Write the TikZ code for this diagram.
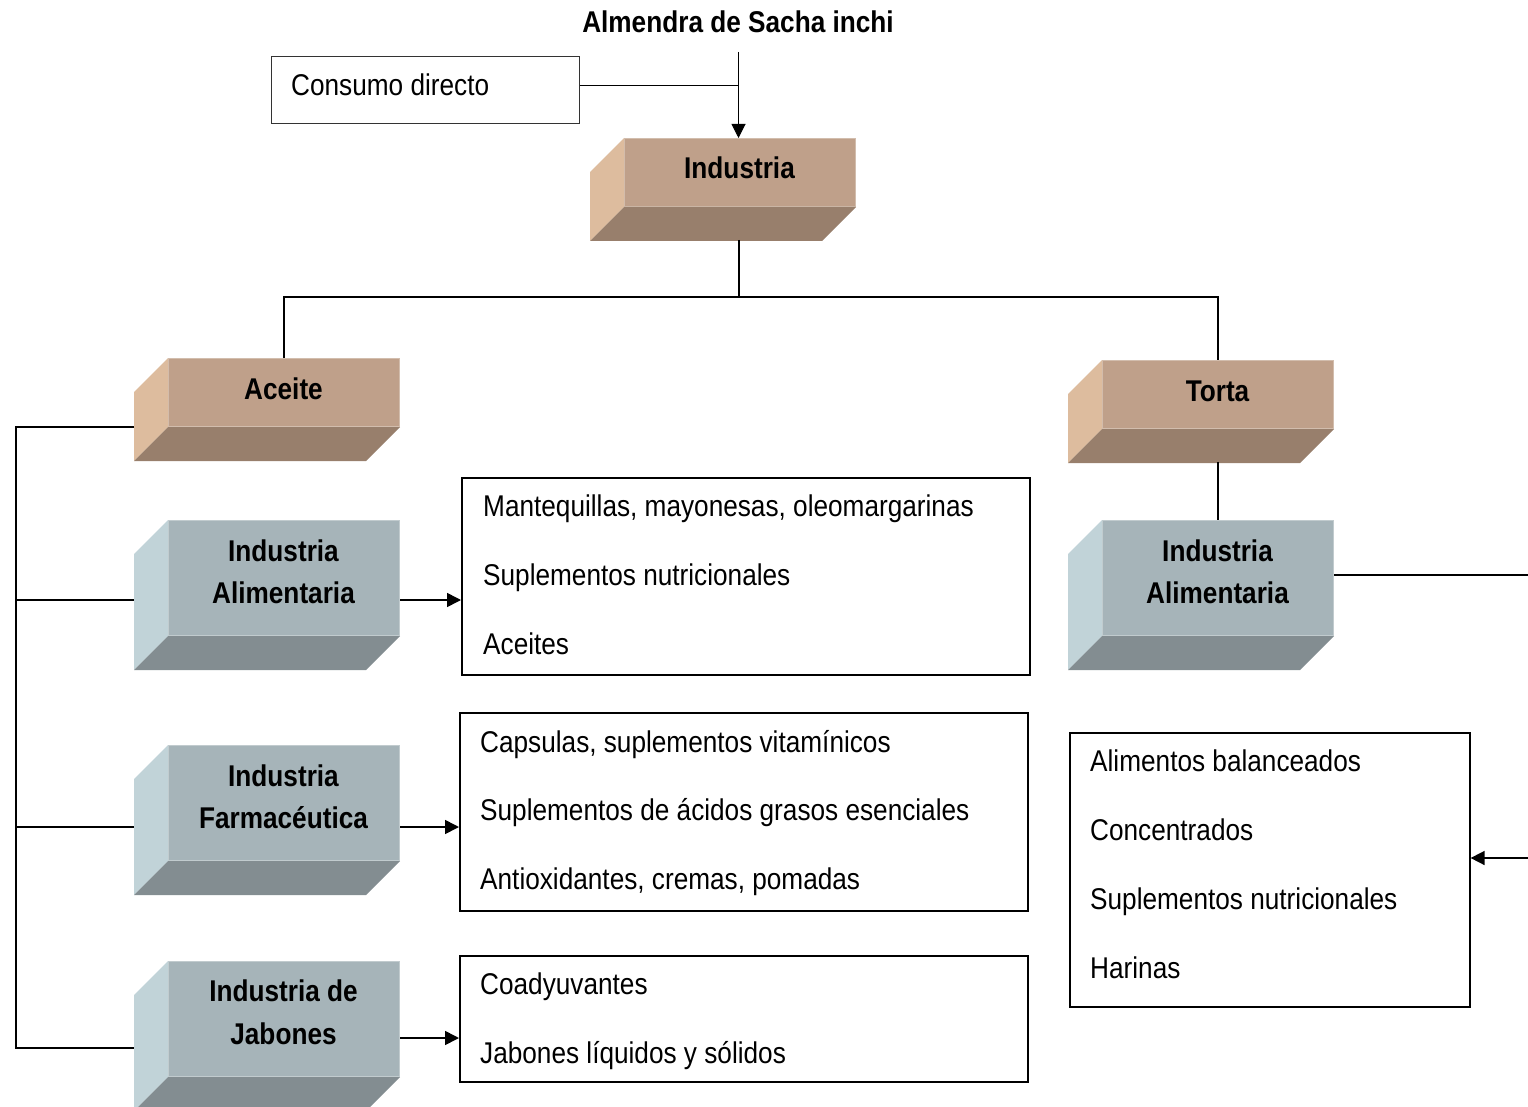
\documentclass[tikz,border=0pt]{standalone}
\usepackage{fontspec}
\setmainfont{Liberation Sans}[FakeStretch=0.873]
\usetikzlibrary{arrows.meta,calc}
\definecolor{tanF}{HTML}{BFA08A}
\definecolor{tanS}{HTML}{DDBC9E}
\definecolor{tanB}{HTML}{987F6C}
\definecolor{grayF}{HTML}{A6B4B9}
\definecolor{grayS}{HTML}{C1D3D8}
\definecolor{grayB}{HTML}{838D91}
\newcommand\bevbox[6]{%
  \node[inner sep=0pt, anchor=north west, fill=#6F, draw=#6F!70!white, line width=1pt,
        minimum width={(#4-#2)*1pt}, minimum height={(#5-#3)*1pt}] (#1) at (#2,#3) {};
  \fill[#6S] (#1.north west) -- ++(-34,34) -- ($(#1.south west)+(-34,34)$) -- (#1.south west) -- cycle;
  \fill[#6B] (#1.south west) -- (#1.south east) -- ++(-34,34) -- ($(#1.south west)+(-34,34)$) -- cycle;
}
\begin{document}
\begin{tikzpicture}[x=1pt,y=-1pt,
  lbl/.style={font=\fontsize{30}{34}\selectfont\bfseries, anchor=base, inner sep=0pt},
  txt/.style={font=\fontsize{30}{34}\selectfont, anchor=base west, inner sep=0pt},
  tbox/.style={draw=black, line width=1.6pt, inner sep=0pt, anchor=north west},
  conn/.style={line width=1.6pt},
  thinconn/.style={line width=1pt},
  arr/.style={line width=1.6pt, -{Triangle[length=14pt,width=14pt]}}]
\useasboundingbox (0,0) rectangle (1528,1107);

% title
\node[lbl] (title) at (738,33) {Almendra de Sacha inchi};

% consumo directo
\node[tbox, draw=black!80, line width=1pt, minimum width=308pt, minimum height=67pt] (cons) at (271,56) {};
\node[txt] (consT) at (291,96) {Consumo directo};

% 3D boxes
\bevbox{ind}{624}{138}{855}{206}{tan}
\node[lbl] (indT) at (739.5,179) {Industria};
\bevbox{ace}{168}{358}{399}{426}{tan}
\node[lbl] (aceT) at (283.5,399) {Aceite};
\bevbox{tor}{1102}{360}{1333}{428}{tan}
\node[lbl] (torT) at (1217.5,401) {Torta};

\bevbox{ia}{168}{520}{399}{635}{gray}
\node[lbl] (iaT1) at (283.5,561) {Industria};
\node[lbl] (iaT2) at (283.5,603) {Alimentaria};
\bevbox{fa}{168}{745}{399}{860}{gray}
\node[lbl] (faT1) at (283.5,786) {Industria};
\node[lbl] (faT2) at (283.5,828) {Farmacéutica};
\bevbox{jab}{168}{961}{399}{1076}{gray}
\node[lbl] (jabT1) at (283.5,1001) {Industria de};
\node[lbl] (jabT2) at (283.5,1044) {Jabones};
\bevbox{tia}{1102}{520}{1333}{635}{gray}
\node[lbl] (tiaT1) at (1217.5,561) {Industria};
\node[lbl] (tiaT2) at (1217.5,603) {Alimentaria};

% text boxes
\node[tbox, minimum width=568pt, minimum height=197pt] (b1) at (461,477) {};
\node[txt] (b1a) at (483,516) {Mantequillas, mayonesas, oleomargarinas};
\node[txt] (b1b) at (483,585) {Suplementos nutricionales};
\node[txt] (b1c) at (483,654) {Aceites};

\node[tbox, minimum width=568pt, minimum height=198pt] (b2) at (459,712) {};
\node[txt] (b2a) at (480,752) {Capsulas, suplementos vitamínicos};
\node[txt] (b2b) at (480,820) {Suplementos de ácidos grasos esenciales};
\node[txt] (b2c) at (480,889) {Antioxidantes, cremas, pomadas};

\node[tbox, minimum width=568pt, minimum height=126pt] (b3) at (459,955) {};
\node[txt] (b3a) at (480,994) {Coadyuvantes};
\node[txt] (b3b) at (480,1063) {Jabones líquidos y sólidos};

\node[tbox, minimum width=400pt, minimum height=274pt] (b4) at (1069,732) {};
\node[txt] (b4a) at (1090,771) {Alimentos balanceados};
\node[txt] (b4b) at (1090,840) {Concentrados};
\node[txt] (b4c) at (1090,909) {Suplementos nutricionales};
\node[txt] (b4d) at (1090,978) {Harinas};

% connectors top
\coordinate (top) at (738.5,52);
\draw[thinconn, -{Triangle[length=14pt,width=14pt]}] (top) -- (top |- ind.north);
\coordinate (consR) at ($(cons.east)+(0,-4.5)$);
\draw[thinconn] (consR) -- (consR -| top);
\coordinate (indbot) at ($(ind.south)+(-1,33)$);
\coordinate (split) at (738.5,297);
\draw[conn] (indbot) -- (indbot |- split);
\draw[conn] (ace.north) |- (split) -| (tor.north);

% left bus
\coordinate (aceL) at ($(ace.south west)+(-34,0)$);
\coordinate (busTop) at (aceL -| 16,0);
\coordinate (ia L) at ($(ia.south west)+(-34,-36)$);
\coordinate (faL) at ($(fa.south west)+(-34,-34)$);
\coordinate (jabL) at ($(jab.south west)+(-34,-29)$);
\draw[conn] (aceL) -- (busTop) -- (busTop |- jabL) -- (jabL);
\draw[conn] (busTop |- ia L) -- (ia L);
\draw[conn] (busTop |- faL) -- (faL);

% arrows to boxes
\coordinate (iaR) at ($(ia.south east)+(0,-36)$);
\coordinate (faR) at ($(fa.south east)+(0,-34)$);
\coordinate (jabR) at ($(jab.south east)+(0,-39)$);
\draw[arr] (iaR) -- (iaR -| b1.west);
\draw[arr] (faR) -- (faR -| b2.west);
\draw[arr] (jabR) -- (jabR -| b3.west);

% right side
\coordinate (torbot) at ($(tor.south)+(0,33)$);
\draw[conn] (torbot) -- (torbot |- tia.north);
\coordinate (tiaR) at ($(tia.east)+(0,-3)$);
\coordinate (rEnd) at (tiaR -| 1528,0);
\draw[conn] (tiaR) -- (rEnd);
\coordinate (rIn) at (1528,858);
\draw[arr] (rIn) -- (rIn -| b4.east);
\end{tikzpicture}
\end{document}
